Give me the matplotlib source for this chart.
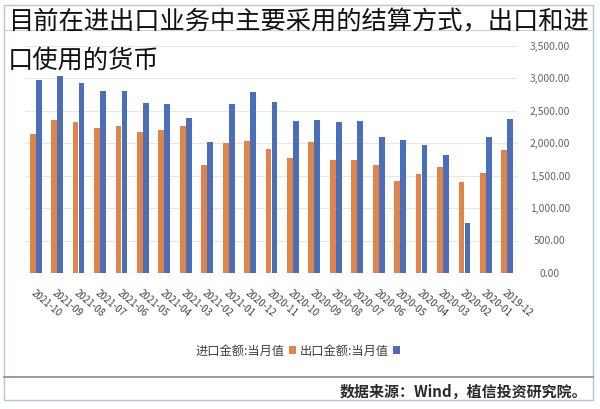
import numpy as np
import matplotlib
matplotlib.use("Agg")
import matplotlib.pyplot as plt
from matplotlib.patches import Rectangle
from matplotlib.lines import Line2D

plt.rcParams["font.family"] = ["Noto Sans CJK SC", "DejaVu Sans"]

# -----------------------------
# Data
# -----------------------------
months = [
    "2021-10", "2021-09", "2021-08", "2021-07", "2021-06", "2021-05",
    "2021-04", "2021-03", "2021-02", "2021-01", "2020-12", "2020-11",
    "2020-10", "2020-09", "2020-08", "2020-07", "2020-06", "2020-05",
    "2020-04", "2020-03", "2020-02", "2020-01", "2019-12",
]
export_values = [2976, 3030, 2925, 2806, 2796, 2616, 2606, 2385, 2015, 2606,
                 2791, 2637, 2339, 2359, 2323, 2339, 2097, 2040, 1969, 1820,
                 766, 2087, 2364]
import_values = [2133, 2359, 2328, 2236, 2267, 2169, 2205, 2262, 1660, 1994,
                 2030, 1902, 1763, 2010, 1742, 1742, 1655, 1419, 1522, 1624,
                 1393, 1542, 1892]
y_ticks = [0, 500, 1000, 1500, 2000, 2500, 3000, 3500]

title_line1 = "目前在进出口业务中主要采用的结算方式，出口和进"
title_line2 = "口使用的货币"
export_label = "出口金额:当月值"
import_label = "进口金额:当月值"
source_text = "数据来源：Wind，植信投资研究院。"

BLUE = "#4a6fb8"
ORANGE = "#e0844a"


def main():
    fig = plt.figure(figsize=(6.0, 4.09), dpi=100)
    W, H = 600, 409

    # outer frame, separators
    fig.patches.append(Rectangle((4 / W, 1 - 400 / H), 589 / W, 395 / H,
                                 transform=fig.transFigure, fill=False,
                                 edgecolor="#b3c6d3", lw=1.0))
    fig.lines.append(Line2D([4 / W, 593 / W], [1 - 377 / H] * 2,
                            transform=fig.transFigure, color="#8a8a8a", lw=1.2))
    fig.lines.append(Line2D([4 / W, 593 / W], [1 - 30 / H] * 2,
                            transform=fig.transFigure, color="#cfcfcf", lw=0.8))

    ax = fig.add_axes([25 / W, 1 - 273 / H, 493 / W, 227.5 / H])
    x = np.arange(len(months))
    ax.bar(x - 0.14, import_values, width=0.27, color=ORANGE, label=import_label, zorder=3)
    ax.bar(x + 0.14, export_values, width=0.27, color=BLUE, label=export_label, zorder=3)

    ax.set_xlim(-0.5, len(months) - 0.5)
    ax.set_ylim(0, 3500)
    for v in y_ticks:
        ax.axhline(v, color="#d6d6d6" if v == 0 else "#e6e6e6", lw=0.8, zorder=1)
    for s in ax.spines.values():
        s.set_visible(False)

    ax.yaxis.tick_right()
    ax.set_yticks(y_ticks)
    ax.set_yticklabels([f"{v:,.2f}" for v in y_ticks], fontsize=7.5, color="#666666")
    for lab in ax.get_yticklabels():
        lab.set_horizontalalignment("center")
    ax.tick_params(axis="y", length=0, pad=23)

    ax.set_xticks(x)
    ax.set_xticklabels(months, rotation=-40, ha="left", va="top",
                       rotation_mode="anchor", fontsize=7, color="#444444")
    ax.tick_params(axis="x", length=0, pad=11)

    handles, labels = ax.get_legend_handles_labels()
    fig.legend(handles, labels, loc="center", bbox_to_anchor=(298 / W, 1 - 351 / H),
               ncol=2, frameon=False, markerfirst=False, fontsize=8.8,
               handlelength=0.6, handleheight=0.6, handletextpad=0.3,
               columnspacing=0.3, labelcolor="#404040")

    fig.text(587 / W, 1 - 392 / H, source_text, ha="right", va="center",
             fontsize=10.8, weight="bold", color="#2a2a2a")

    fig.text(8 / W, 1 - 22 / H, title_line1, ha="left", va="center",
             fontsize=18.2, weight="light", color="#111111")
    fig.text(8 / W, 1 - 61 / H, title_line2, ha="left", va="center",
             fontsize=18.2, weight="light", color="#111111")

    fig.savefig("out.png", dpi=100)
    plt.close(fig)


if __name__ == "__main__":
    main()
